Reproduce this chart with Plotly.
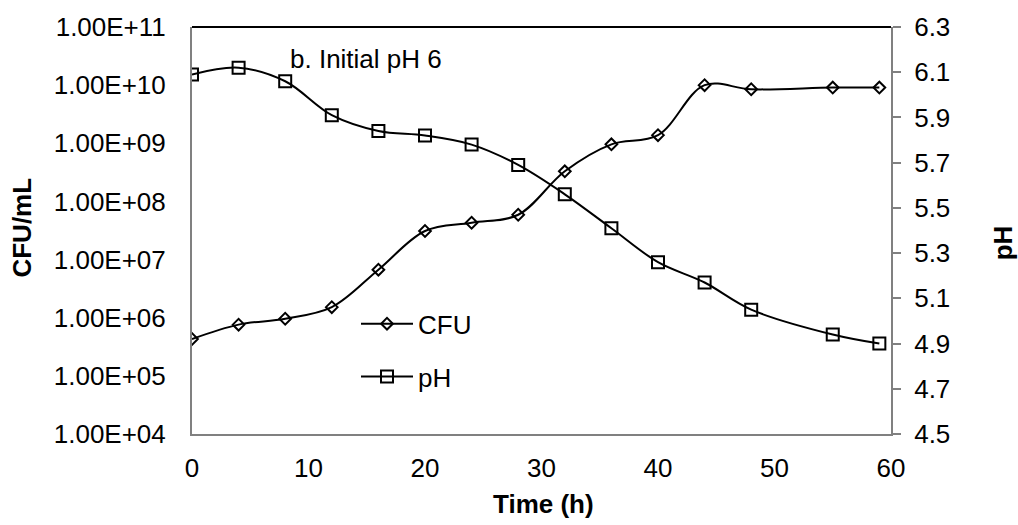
import plotly.graph_objects as go

time_h = [0, 4, 8, 12, 16, 20, 24, 28, 32, 36, 40, 44, 48, 55, 59]
cfu = [4.3e5, 7.6e5, 9.6e5, 1.52e6, 6.7e6, 3.1e7, 4.3e7, 5.9e7, 3.3e8, 9.6e8,
       1.38e9, 1.0e10, 8.5e9, 9.1e9, 9.1e9]
ph = [6.09, 6.12, 6.06, 5.91, 5.84, 5.82, 5.78, 5.69, 5.56, 5.41, 5.26, 5.17,
      5.05, 4.94, 4.90]

left_tickvals = [1e4, 1e5, 1e6, 1e7, 1e8, 1e9, 1e10, 1e11]
left_ticktext = ["1.00E+04", "1.00E+05", "1.00E+06", "1.00E+07", "1.00E+08",
                 "1.00E+09", "1.00E+10", "1.00E+11"]

FONT = "Liberation Sans, Arial, sans-serif"
FS = 26

fig = go.Figure()
fig.add_trace(go.Scatter(
    x=time_h, y=cfu, name="CFU", mode="lines+markers",
    line=dict(color="black", width=2, shape="spline", smoothing=1),
    marker=dict(symbol="diamond-open", size=9, color="black",
                line=dict(color="black", width=2)),
    legendgroup="a", yaxis="y"))
fig.add_trace(go.Scatter(
    x=time_h, y=ph, name="pH", mode="lines+markers",
    line=dict(color="black", width=2, shape="spline", smoothing=1),
    marker=dict(symbol="square-open", size=12, color="black",
                line=dict(color="black", width=2)),
    legendgroup="b", yaxis="y2"))

fig.update_layout(
    width=1018, height=525,
    margin=dict(l=192, r=127, t=20, b=91),
    paper_bgcolor="white", plot_bgcolor="white",
    font=dict(family=FONT, size=FS, color="black"),
    showlegend=True,
    legend=dict(x=(356 - 192) / 699, y=(434 - 298) / 414, xanchor="left", yanchor="top",
                bgcolor="rgba(0,0,0,0)", font=dict(size=FS), itemwidth=52,
                traceorder="grouped", tracegroupgap=16),
    xaxis=dict(range=[0, 60], tick0=0, dtick=10, showgrid=False, zeroline=False,
               showline=True, linecolor="#808080", linewidth=2, ticks="",
               tickfont=dict(size=FS), ticklabelstandoff=10),
    yaxis=dict(type="log", range=[4, 11], tickvals=left_tickvals, ticktext=left_ticktext,
               showgrid=False, zeroline=False, showline=True, linecolor="#808080",
               linewidth=2, ticks="", tickfont=dict(size=FS), ticklabelstandoff=19),
    yaxis2=dict(range=[4.5, 6.3], tick0=4.5, dtick=0.2, tickformat=".1f",
                overlaying="y", side="right", showgrid=False, zeroline=False,
                showline=True, linecolor="#808080", linewidth=2, ticks="outside",
                ticklen=8, tickcolor="#808080", tickwidth=2, tickfont=dict(size=FS),
                ticklabelstandoff=8),
    shapes=[dict(type="line", xref="paper", yref="paper", x0=0, x1=1, y0=1, y1=1,
                 line=dict(color="black", width=2))],
    annotations=[
        dict(text="b. Initial pH 6", xref="paper", yref="paper",
             x=(288 - 192) / 699, y=(434 - 53) / 414, xanchor="left", yanchor="middle",
             showarrow=False, font=dict(size=FS)),
        dict(text="<b>CFU/mL</b>", xref="paper", yref="paper",
             x=(22 - 192) / 699, y=(434 - 224) / 414, xanchor="center", yanchor="middle",
             textangle=-90, showarrow=False, font=dict(size=FS)),
        dict(text="<b>pH</b>", xref="paper", yref="paper",
             x=(1003 - 192) / 699, y=(434 - 240) / 414, xanchor="center", yanchor="middle",
             textangle=-90, showarrow=False, font=dict(size=FS)),
        dict(text="<b>Time (h)</b>", xref="paper", yref="paper",
             x=(543 - 192) / 699, y=(434 - 505) / 414, xanchor="center", yanchor="middle",
             showarrow=False, font=dict(size=FS)),
    ],
)

fig.write_html("out.html")
